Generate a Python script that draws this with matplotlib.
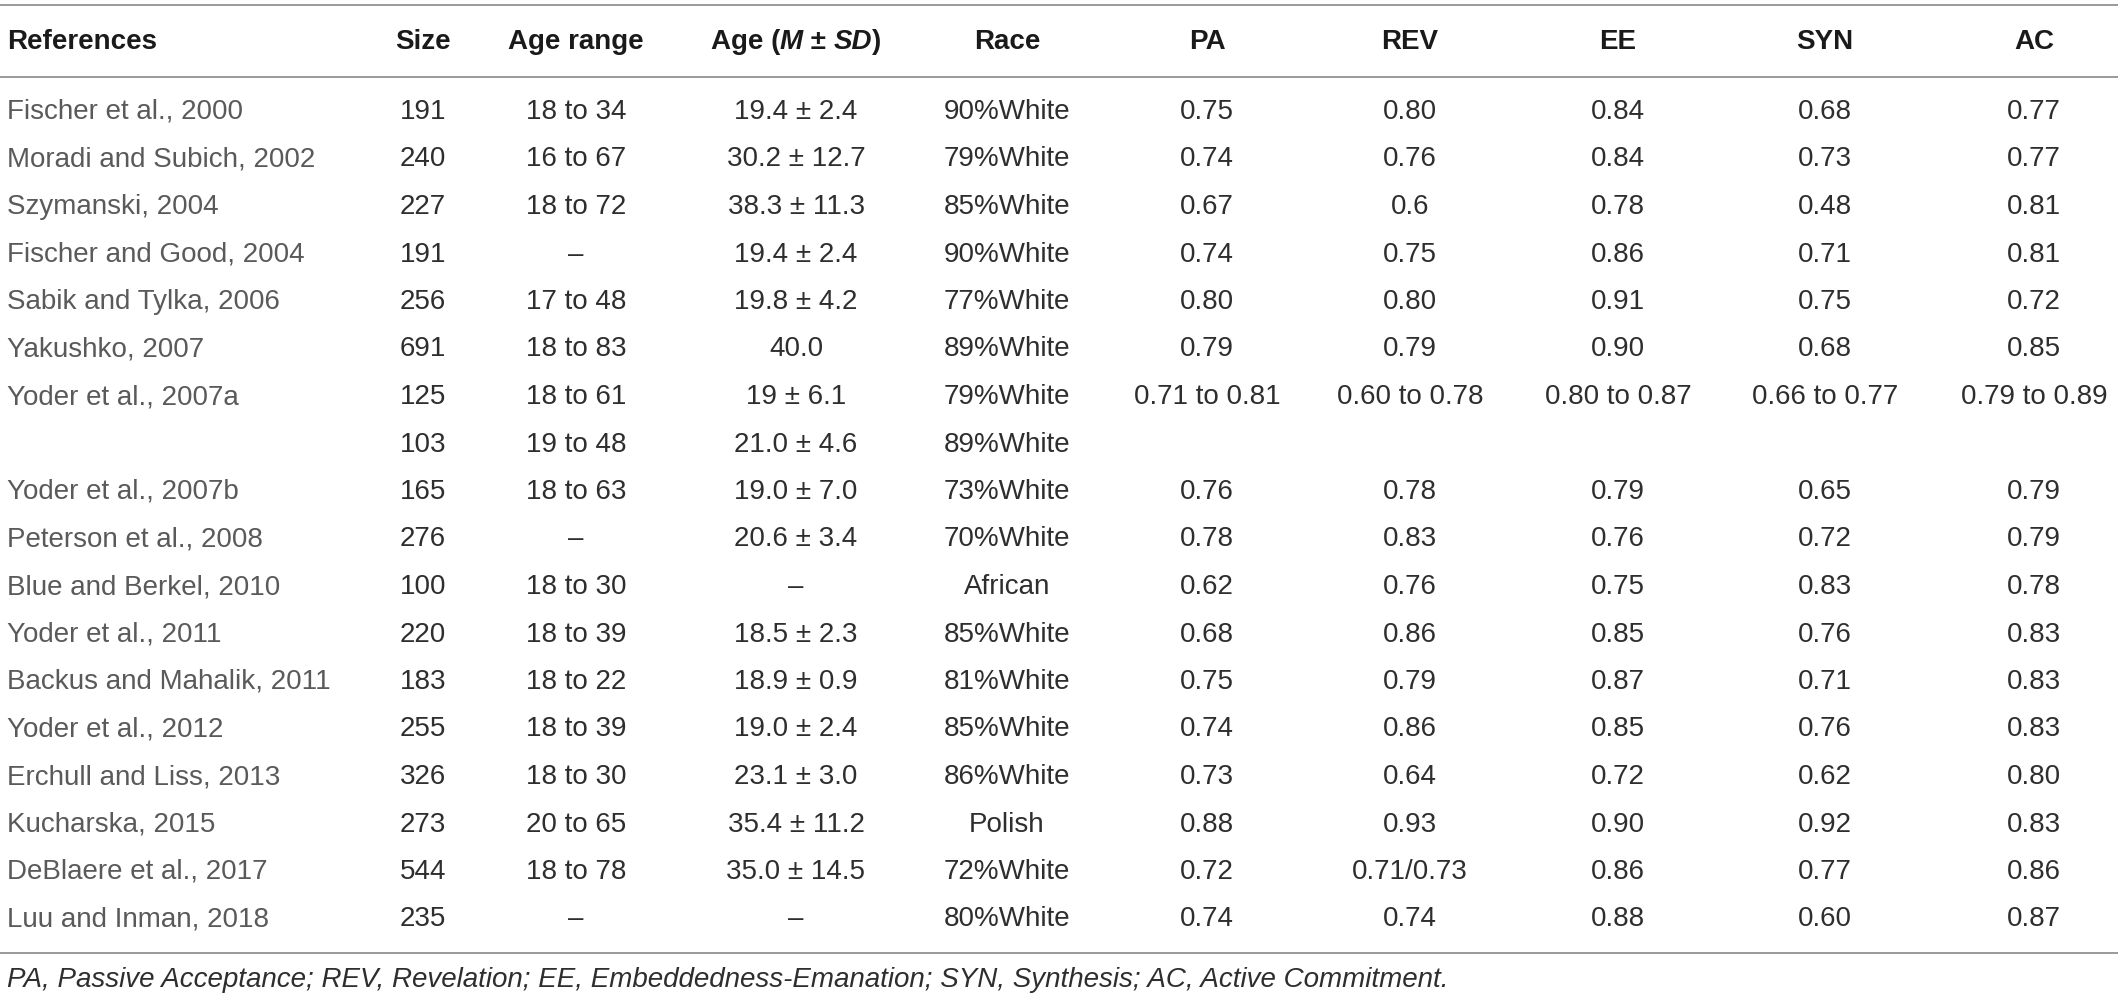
import matplotlib
matplotlib.use("Agg")
import matplotlib.pyplot as plt

plt.rcParams['font.family'] = ['Liberation Sans', 'DejaVu Sans']

# ---------------- data ----------------
headers = ["References", "Size", "Age range", "Age (M ± SD)", "Race",
           "PA", "REV", "EE", "SYN", "AC"]
references = ["Fischer et al., 2000", "Moradi and Subich, 2002", "Szymanski, 2004",
              "Fischer and Good, 2004", "Sabik and Tylka, 2006", "Yakushko, 2007",
              "Yoder et al., 2007a", "", "Yoder et al., 2007b", "Peterson et al., 2008",
              "Blue and Berkel, 2010", "Yoder et al., 2011", "Backus and Mahalik, 2011",
              "Yoder et al., 2012", "Erchull and Liss, 2013", "Kucharska, 2015",
              "DeBlaere et al., 2017", "Luu and Inman, 2018"]
sizes = ["191", "240", "227", "191", "256", "691", "125", "103", "165", "276",
         "100", "220", "183", "255", "326", "273", "544", "235"]
age_range = ["18 to 34", "16 to 67", "18 to 72", "–", "17 to 48", "18 to 83",
             "18 to 61", "19 to 48", "18 to 63", "–", "18 to 30", "18 to 39",
             "18 to 22", "18 to 39", "18 to 30", "20 to 65", "18 to 78", "–"]
age_msd = ["19.4 ± 2.4", "30.2 ± 12.7", "38.3 ± 11.3", "19.4 ± 2.4", "19.8 ± 4.2",
           "40.0", "19 ± 6.1", "21.0 ± 4.6", "19.0 ± 7.0", "20.6 ± 3.4", "–",
           "18.5 ± 2.3", "18.9 ± 0.9", "19.0 ± 2.4", "23.1 ± 3.0", "35.4 ± 11.2",
           "35.0 ± 14.5", "–"]
race = ["90%White", "79%White", "85%White", "90%White", "77%White", "89%White",
        "79%White", "89%White", "73%White", "70%White", "African", "85%White",
        "81%White", "85%White", "86%White", "Polish", "72%White", "80%White"]
pa = ["0.75", "0.74", "0.67", "0.74", "0.80", "0.79", "0.71 to 0.81", "", "0.76",
      "0.78", "0.62", "0.68", "0.75", "0.74", "0.73", "0.88", "0.72", "0.74"]
rev = ["0.80", "0.76", "0.6", "0.75", "0.80", "0.79", "0.60 to 0.78", "", "0.78",
       "0.83", "0.76", "0.86", "0.79", "0.86", "0.64", "0.93", "0.71/0.73", "0.74"]
ee = ["0.84", "0.84", "0.78", "0.86", "0.91", "0.90", "0.80 to 0.87", "", "0.79",
      "0.76", "0.75", "0.85", "0.87", "0.85", "0.72", "0.90", "0.86", "0.88"]
syn = ["0.68", "0.73", "0.48", "0.71", "0.75", "0.68", "0.66 to 0.77", "", "0.65",
       "0.72", "0.83", "0.76", "0.71", "0.76", "0.62", "0.92", "0.77", "0.60"]
ac = ["0.77", "0.77", "0.81", "0.81", "0.72", "0.85", "0.79 to 0.89", "", "0.79",
      "0.79", "0.78", "0.83", "0.83", "0.83", "0.80", "0.83", "0.86", "0.87"]
footnote = ("PA, Passive Acceptance; REV, Revelation; EE, Embeddedness-Emanation; "
            "SYN, Synthesis; AC, Active Commitment.")

# ---------------- layout ----------------
W, H = 2118, 1001
fig = plt.figure(figsize=(W / 100, H / 100), dpi=100)
ax = fig.add_axes([0, 0, 1, 1])
ax.set_xlim(0, W)
ax.set_ylim(H, 0)
ax.axis("off")

FS = 20
col_x = [7, 423, 576, 796, 1007, 1207, 1410, 1618, 1825, 2034]
header_y = 42
row0_y = 112
row_dy = 47.5
line_color = "#9a9a9a"
ref_color = "#5a5a5a"
val_color = "#2e2e2e"
head_color = "#1a1a1a"

for y in (5, 77, 953):
    ax.plot([0, W], [y, y], color=line_color, lw=1.4, solid_capstyle="butt")

# headers
ax.text(col_x[0], header_y, headers[0], ha="left", va="center", fontsize=FS,
        fontweight="bold", color=head_color)
for i in (1, 2, 4, 5, 6, 7, 8, 9):
    ax.text(col_x[i], header_y, headers[i], ha="center", va="center", fontsize=FS,
            fontweight="bold", color=head_color)

# mixed-style header "Age (M ± SD)"
pieces = [("Age (", "normal"), ("M", "italic"), (" ± ", "normal"),
          ("SD", "italic"), (")", "normal")]
renderer = fig.canvas.get_renderer()
objs = []
for s, st in pieces:
    t = ax.text(0, header_y, s, ha="left", va="center", fontsize=FS,
                fontweight="bold", fontstyle=st, color=head_color)
    objs.append(t)
widths = [t.get_window_extent(renderer).width for t in objs]
total = sum(widths)
x = col_x[3] - total / 2
for t, w in zip(objs, widths):
    t.set_x(x)
    x += w

# body
columns = [sizes, age_range, age_msd, race, pa, rev, ee, syn, ac]
for r in range(len(references)):
    y = row0_y + r * row_dy
    ax.text(col_x[0], y, references[r], ha="left", va="center", fontsize=FS,
            color=ref_color)
    for c, col in enumerate(columns):
        ax.text(col_x[c + 1], y, col[r], ha="center", va="center", fontsize=FS,
                color=val_color)

ax.text(col_x[0], 980, footnote, ha="left", va="center", fontsize=FS,
        fontstyle="italic", color=val_color)

fig.savefig("out.png", dpi=100)
